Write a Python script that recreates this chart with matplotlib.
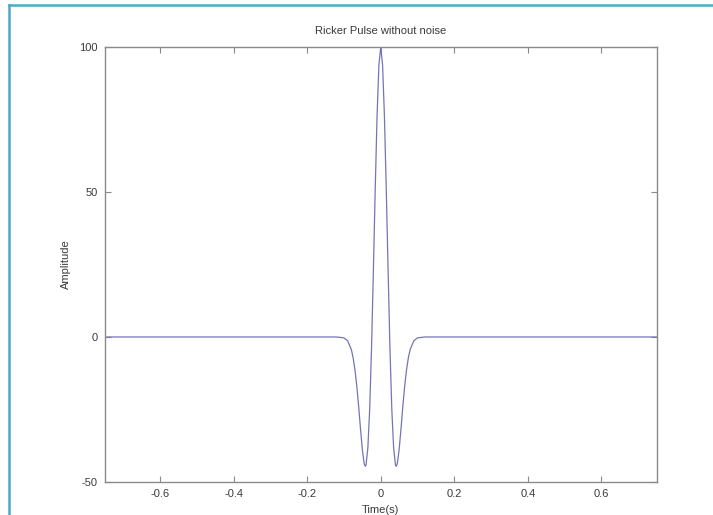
import matplotlib

matplotlib.use("Agg")
import matplotlib.pyplot as plt
from matplotlib.lines import Line2D

# values
time_s = [
    -0.75, -0.12, -0.10, -0.09, -0.08, -0.075, -0.07, -0.065, -0.06, -0.055,
    -0.05, -0.045, -0.042, -0.04, -0.035, -0.03, -0.025, -0.02, -0.015, -0.01,
    -0.005, 0.0, 0.005, 0.01, 0.015, 0.02, 0.025, 0.03, 0.035, 0.04,
    0.042, 0.045, 0.05, 0.055, 0.06, 0.065, 0.07, 0.075, 0.08, 0.09,
    0.10, 0.12, 0.75,
]
amplitude = [
    0.0, 0.0, -0.3, -1.3, -4.3, -7.2, -11.4, -17.0, -24.0, -31.7,
    -38.8, -43.7, -44.6, -44.1, -38.2, -24.7, -3.7, 22.8, 51.0, 76.2,
    93.7, 100.0, 93.7, 76.2, 51.0, 22.8, -3.7, -24.7, -38.2, -44.1,
    -44.6, -43.7, -38.8, -31.7, -24.0, -17.0, -11.4, -7.2, -4.3, -1.3,
    -0.3, 0.0, 0.0,
]
x_ticks = [-0.6, -0.4, -0.2, 0, 0.2, 0.4, 0.6]
x_tick_labels = ["-0.6", "-0.4", "-0.2", "0", "0.2", "0.4", "0.6"]
y_ticks = [-50, 0, 50, 100]
y_tick_labels = ["-50", "0", "50", "100"]

plt.rcParams["font.family"] = ["Liberation Sans", "DejaVu Sans"]
plt.rcParams["axes.unicode_minus"] = False

fig = plt.figure(figsize=(7.13, 5.15), dpi=100)
ax = fig.add_axes([0.147, 0.064, 0.774, 0.845])

ax.plot(time_s, amplitude, color="#7474b8", lw=0.9)

ax.set_xlim(-0.75, 0.75)
ax.set_ylim(-50, 100)
ax.set_xticks(x_ticks)
ax.set_xticklabels(x_tick_labels)
ax.set_yticks(y_ticks)
ax.set_yticklabels(y_tick_labels)

for s in ax.spines.values():
    s.set_color("#8a8a8a")
    s.set_linewidth(1.0)
ax.tick_params(direction="in", length=4, width=0.8, color="#8a8a8a",
               top=True, right=True, labelsize=8, labelcolor="#3a3a3a", pad=5)

ax.set_title("Ricker Pulse without noise", fontsize=8, color="#3a3a3a", pad=9)
ax.set_xlabel("Time(s)", fontsize=8, color="#3a3a3a", labelpad=4)
ax.set_ylabel("Amplitude", fontsize=8, color="#3a3a3a", labelpad=6)

# teal frame along the top and left edges
frame = "#4bacc6"
fig.add_artist(Line2D([9 / 713, 1.0], [1 - 5 / 515, 1 - 5 / 515],
                      transform=fig.transFigure, color=frame, lw=1.8))
fig.add_artist(Line2D([9 / 713, 9 / 713], [0.0, 1 - 5 / 515],
                      transform=fig.transFigure, color=frame, lw=1.8))

fig.savefig("out.png", dpi=100)
